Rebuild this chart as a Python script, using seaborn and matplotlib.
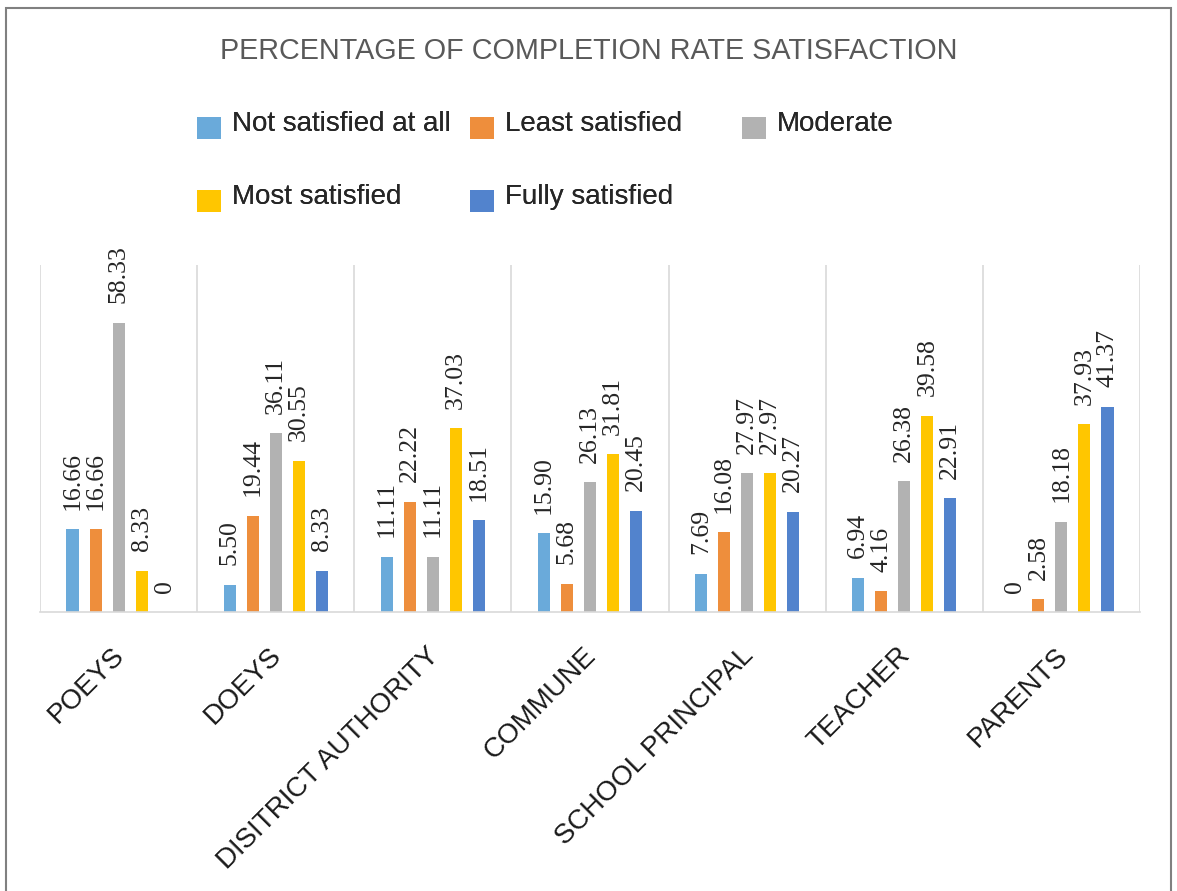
import matplotlib
matplotlib.use("Agg")
import matplotlib.pyplot as plt
import matplotlib.transforms as mtransforms
from matplotlib.patches import Rectangle
from matplotlib.legend_handler import HandlerPatch
import numpy as np
import pandas as pd
import seaborn as sns

# --- data -------------------------------------------------------------
categories = ["POEYS", "DOEYS", "DISITRICT AUTHORITY", "COMMUNE",
              "SCHOOL PRINCIPAL", "TEACHER", "PARENTS"]
levels = ["Not satisfied at all", "Least satisfied", "Moderate",
          "Most satisfied", "Fully satisfied"]
not_satisfied = [16.66, 5.50, 11.11, 15.90, 7.69, 6.94, 0]
least_satisfied = [16.66, 19.44, 22.22, 5.68, 16.08, 4.16, 2.58]
moderate = [58.33, 36.11, 11.11, 26.13, 27.97, 26.38, 18.18]
most_satisfied = [8.33, 30.55, 37.03, 31.81, 27.97, 39.58, 37.93]
fully_satisfied = [0, 8.33, 18.51, 20.45, 20.27, 22.91, 41.37]

series = [not_satisfied, least_satisfied, moderate, most_satisfied, fully_satisfied]
colors = ["#6AAADA", "#EE8E3C", "#B2B2B2", "#FFC600", "#5283CD"]

df = pd.DataFrame({
    "group": np.tile(categories, len(levels)),
    "level": np.repeat(levels, len(categories)),
    "value": np.concatenate(series),
})

# --- styling ----------------------------------------------------------
sns.set_style("white")
plt.rcParams["font.family"] = ["Liberation Sans", "DejaVu Sans"]

W, H = 1177, 891
fig = plt.figure(figsize=(W / 100, H / 100), dpi=100)
ax = fig.add_axes([40 / W, 1 - 612 / H, 1100 / W, 347 / H])

sns.barplot(data=df, x="group", y="value", hue="level",
            order=categories, hue_order=levels, palette=colors,
            saturation=1, errorbar=None, width=0.733, gap=0.478,
            linewidth=0, ax=ax)

handles, labels = ax.get_legend_handles_labels()
ax.get_legend().remove()

# value labels above every bar
for cont, vals in zip(ax.containers, series):
    texts = [f"{v:.2f}" if v else "0" for v in vals]
    ax.bar_label(cont, labels=texts, rotation=90, padding=14,
                 fontsize=18.5, family="Liberation Serif", color="#262626")

ax.set_xlim(-0.5, len(categories) - 0.5)
ax.set_ylim(0, 70)
ax.set_yticks([])
ax.set_xlabel("")
ax.set_ylabel("")

# separators between category groups
ax.set_xticks(np.arange(-0.5, len(categories)), minor=True)
ax.grid(False)
ax.grid(which="minor", axis="x", color="#D9D9D9", linewidth=1.2)
ax.tick_params(axis="x", which="both", length=0)
for side in ["left", "right", "top"]:
    ax.spines[side].set_visible(False)
ax.spines["bottom"].set_color("#D9D9D9")
ax.spines["bottom"].set_linewidth(1.2)

offset = mtransforms.ScaledTranslation(-7 / 100, 0, fig.dpi_scale_trans)
ax.set_xticks(range(len(categories)))
ax.set_xticklabels(categories, rotation=45, ha="right", va="top",
                   rotation_mode="anchor", fontsize=20, color="#1a1a1a")
ax.tick_params(axis="x", which="major", pad=22)
for lab in ax.get_xticklabels():
    lab.set_transform(lab.get_transform() + offset)

# title
fig.text(0.5, 1 - 51 / H, "PERCENTAGE OF COMPLETION RATE SATISFACTION",
         ha="center", va="center", fontsize=20.7, color="#595959")


# legend swatches sit slightly below the text centre line
def low_square(legend, orig_handle, xdescent, ydescent, width, height, fontsize):
    return Rectangle((-xdescent, -ydescent - 5), width, height)


handler = {h: HandlerPatch(patch_func=low_square) for h in handles}

# legend laid out in rows: three columns placed individually
cols = [([0, 3], 197), ([1, 4], 470), ([2], 742)]
for idx, xpos in cols:
    leg = fig.legend([handles[i] for i in idx], [labels[i] for i in idx],
                     loc="upper left", bbox_to_anchor=(xpos / W, 1 - 110 / H),
                     frameon=False, fontsize=20, borderpad=0, borderaxespad=0,
                     handlelength=0.85, handleheight=0.85, handletextpad=0.4,
                     labelspacing=1.68, handler_map=handler)
    fig.add_artist(leg)

# outer frame
fig.add_artist(Rectangle((6 / W, -0.1), (1171 - 6) / W, 1 - 8 / H + 0.1,
                         transform=fig.transFigure, fill=False,
                         edgecolor="#808080", linewidth=1.5))

fig.savefig("out.png", dpi=100)
